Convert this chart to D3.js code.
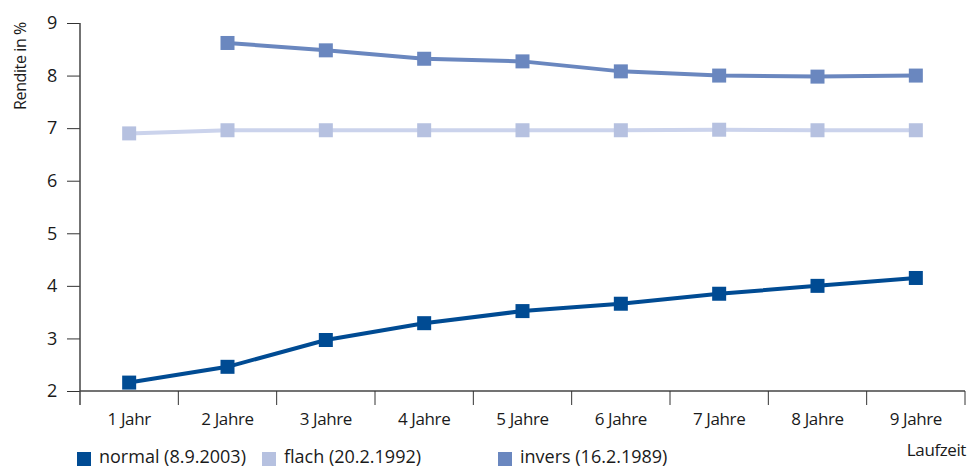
<!DOCTYPE html>
<html>
<head>
<meta charset="utf-8">
<script src="https://cdn.jsdelivr.net/npm/d3@7"></script>
<style>
  body { margin: 0; background: #fff; }
  svg text { font-family: "Open Sans", sans-serif; fill: #1a1a1a; letter-spacing: -0.4px; }
</style>
</head>
<body>
<div id="chart"></div>
<script>
const categories = ['1 Jahr', '2 Jahre', '3 Jahre', '4 Jahre', '5 Jahre', '6 Jahre', '7 Jahre', '8 Jahre', '9 Jahre'];
const normal = [2.16, 2.46, 2.97, 3.29, 3.52, 3.66, 3.85, 4.0, 4.15];
const flach = [6.9, 6.96, 6.96, 6.96, 6.96, 6.96, 6.97, 6.96, 6.96];
const invers = [null, 8.62, 8.48, 8.32, 8.27, 8.08, 8.0, 7.98, 8.0];
const yTicks = [2, 3, 4, 5, 6, 7, 8, 9];

const series = [
  { name: 'normal (8.9.2003)', values: normal, line: '#004b93', marker: '#004b93' },
  { name: 'flach (20.2.1992)', values: flach, line: '#cbd3ec', marker: '#b6c1e0' },
  { name: 'invers (16.2.1989)', values: invers, line: '#6a87bf', marker: '#6a87bf' }
];

const width = 977, height = 468;
const margin = { top: 23, right: 12, bottom: 77, left: 80 };
const w = width - margin.left - margin.right;
const h = height - margin.top - margin.bottom;

const svg = d3.select('#chart').append('svg').attr('width', width).attr('height', height);
const g = svg.append('g').attr('transform', `translate(${margin.left},${margin.top})`);

const x = d3.scaleBand().domain(categories).range([0, w]);
const y = d3.scaleLinear().domain([2, 9]).range([h, 0]);
const cx = d => x(d) + x.bandwidth() / 2;

// y axis
const yAxis = g.append('g').call(d3.axisLeft(y).tickValues(yTicks).tickSize(13).tickPadding(10).tickFormat(d3.format('d')));
yAxis.select('.domain').remove();
yAxis.selectAll('line').attr('stroke', '#333');
yAxis.selectAll('text').style('font-size', '18px');
g.append('line').attr('x1', 0).attr('x2', 0).attr('y1', 0).attr('y2', h + 14).attr('stroke', '#444').attr('stroke-width', 1.5);

// x axis with band boundary ticks
const xg = g.append('g').attr('transform', `translate(0,${h})`);
xg.append('line').attr('x1', 0).attr('x2', w).attr('stroke', '#444').attr('stroke-width', 1.5);
xg.selectAll('.tk').data(categories).enter().append('line')
  .attr('x1', d => x(d) + x.bandwidth()).attr('x2', d => x(d) + x.bandwidth())
  .attr('y1', 0).attr('y2', 14).attr('stroke', '#333');
xg.selectAll('.lbl').data(categories).enter().append('text')
  .attr('x', cx).attr('y', 34).attr('text-anchor', 'middle').style('font-size', '17px').text(d => d);

// lines and markers
const line = d3.line().defined(d => d.v != null).x(d => cx(d.c)).y(d => y(d.v));
series.forEach(s => {
  const pts = categories.map((c, i) => ({ c, v: s.values[i] }));
  g.append('path').datum(pts).attr('d', line).attr('fill', 'none')
    .attr('stroke', s.line).attr('stroke-width', 4);
  g.selectAll(null).data(pts.filter(d => d.v != null)).enter().append('rect')
    .attr('x', d => cx(d.c) - 7).attr('y', d => y(d.v) - 7)
    .attr('width', 14).attr('height', 14).attr('fill', s.marker);
});

// axis titles
svg.append('text').attr('transform', 'translate(26,66) rotate(-90)').attr('text-anchor', 'middle')
  .style('font-size', '16px').text('Rendite in %');
svg.append('text').attr('x', 966).attr('y', 456).attr('text-anchor', 'end')
  .style('font-size', '17px').text('Laufzeit');

// legend
const legendX = [77, 262, 498];
series.forEach((s, i) => {
  svg.append('rect').attr('x', legendX[i]).attr('y', 452).attr('width', 14).attr('height', 14).attr('fill', s.marker);
  svg.append('text').attr('x', legendX[i] + 22).attr('y', 463).style('font-size', '18px')
    .style('letter-spacing', '0px').text(s.name);
});
</script>
</body>
</html>
